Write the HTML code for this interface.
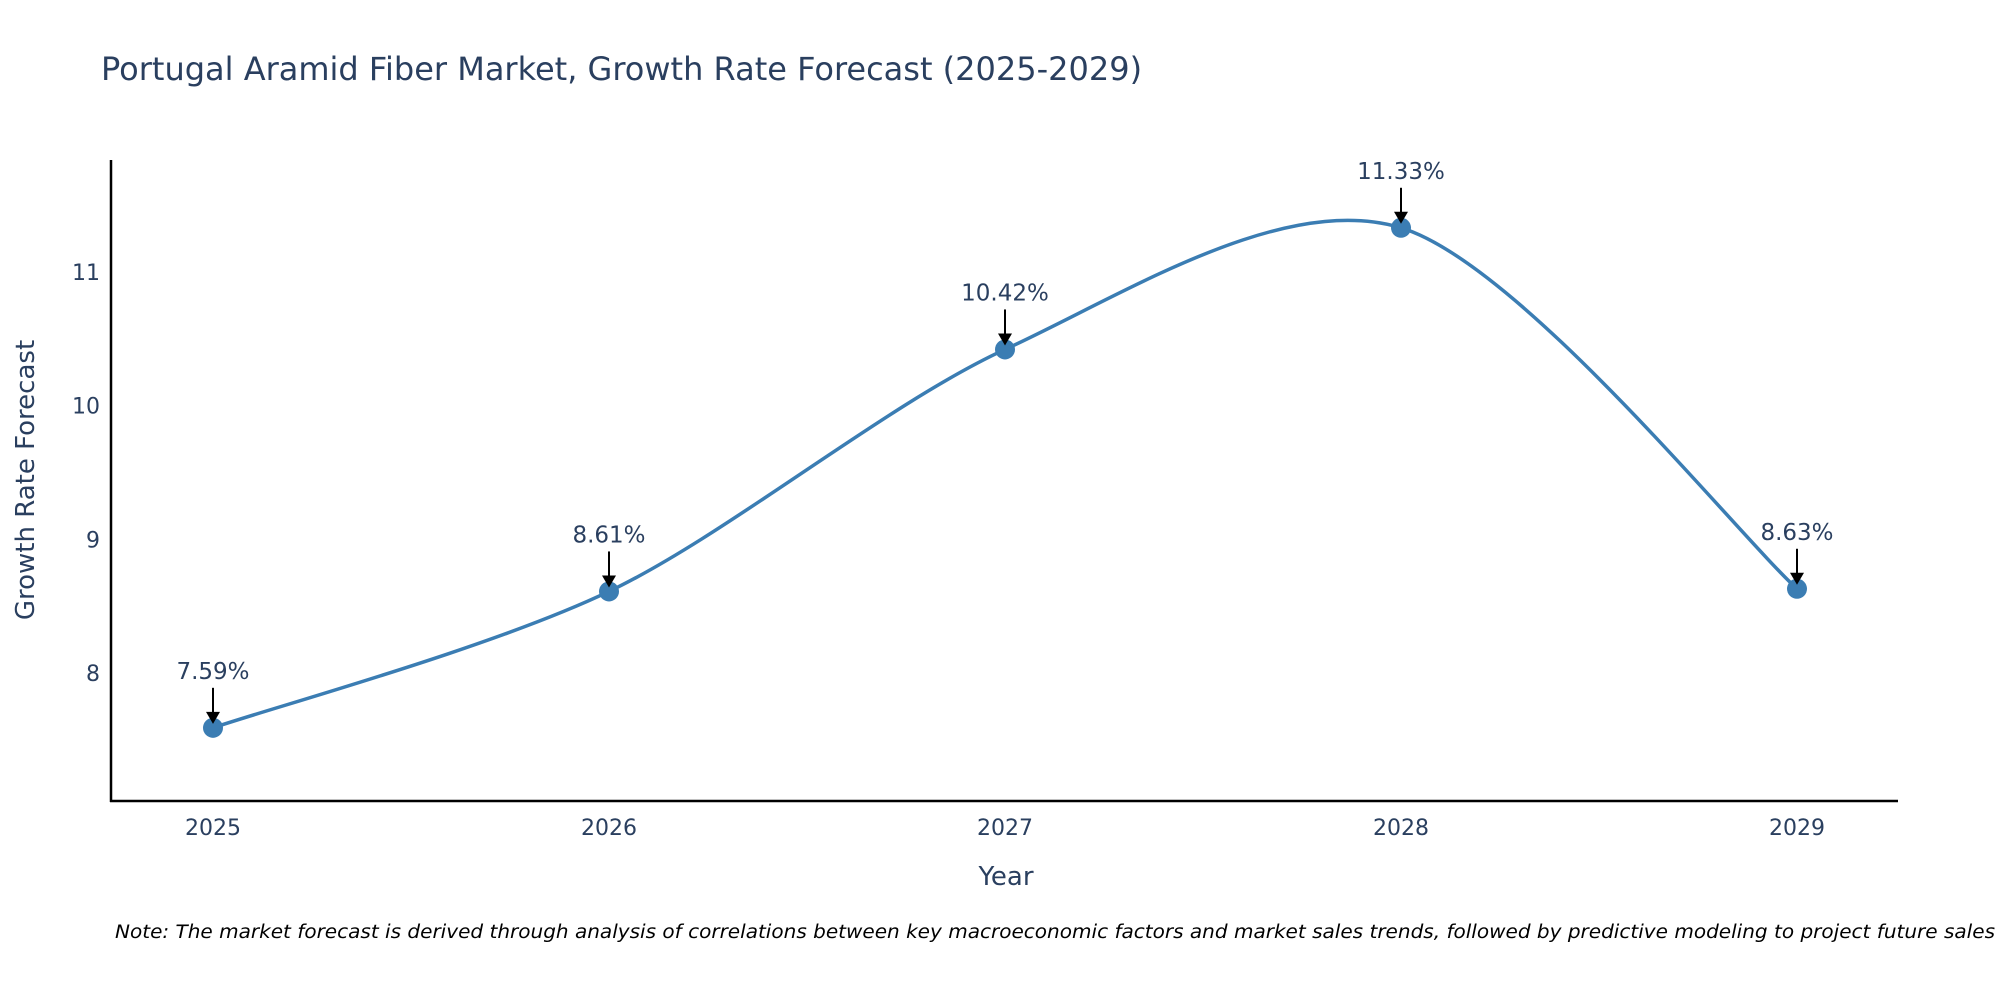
<!DOCTYPE html>
<html><head><meta charset="utf-8"><style>
body{margin:0;background:#fff}
svg{display:block;font-family:"DejaVu Sans","Liberation Sans",sans-serif}
</style></head><body>
<svg id="chart" width="2000" height="1000">
<text x="101" y="80" font-size="32" fill="#2a3f5f">Portugal Aramid Fiber Market, Growth Rate Forecast (2025-2029)</text>
<g id="yticks"></g><g id="xticks"></g>
<path id="curve" fill="none" stroke="#3b7db3" stroke-width="3.5"/>
<g id="marks"></g>
<line x1="111" y1="160" x2="111" y2="802" stroke="#000" stroke-width="2.5"/>
<line x1="110" y1="801" x2="1898" y2="801" stroke="#000" stroke-width="2.5"/>
<text transform="translate(34,480) rotate(-90)" text-anchor="middle" font-size="26" fill="#2a3f5f">Growth Rate Forecast</text>
<text x="1006" y="885" text-anchor="middle" font-size="26" fill="#2a3f5f">Year</text>
<text x="115" y="938" font-size="18.5" font-style="italic" fill="#000" textLength="1880" lengthAdjust="spacingAndGlyphs">Note: The market forecast is derived through analysis of correlations between key macroeconomic factors and market sales trends, followed by predictive modeling to project future sales</text>
</svg>
<script>
const years=[2025,2026,2027,2028,2029];
const values=[7.59,8.61,10.42,11.33,8.63];
const labels=["7.59%","8.61%","10.42%","11.33%","8.63%"];
const yTicks=[8,9,10,11];
const NS="http://www.w3.org/2000/svg";
const X=v=>213+(v-2025)*396;
const Y=v=>673-(v-8)*133.7;
const svg=document.getElementById('chart');
function mk(t,a,p){const e=document.createElementNS(NS,t);for(const k in a)e.setAttribute(k,a[k]);p.appendChild(e);return e;}
const yt=document.getElementById('yticks');
yTicks.forEach(v=>{const e=mk('text',{x:100,y:Y(v)+8,'text-anchor':'end','font-size':22,fill:'#2a3f5f'},yt);e.textContent=v;

});
const xt=document.getElementById('xticks');
years.forEach(v=>{const e=mk('text',{x:X(v),y:835,'text-anchor':'middle','font-size':22,fill:'#2a3f5f'},xt);e.textContent=v;

});
const pts=years.map((y,i)=>[X(y),Y(values[i])]);
let d=`M${pts[0][0]},${pts[0][1]}`;const s=0.45;
for(let i=0;i<pts.length-1;i++){const p0=pts[Math.max(i-1,0)],p1=pts[i],p2=pts[i+1],p3=pts[Math.min(i+2,pts.length-1)];
const c1=[p1[0]+(p2[0]-p0[0])*s/3,p1[1]+(p2[1]-p0[1])*s/3],c2=[p2[0]-(p3[0]-p1[0])*s/3,p2[1]-(p3[1]-p1[1])*s/3];
d+=` C${c1[0]},${c1[1]} ${c2[0]},${c2[1]} ${p2[0]},${p2[1]}`;}
document.getElementById('curve').setAttribute('d',d);
const mg=document.getElementById('marks');
pts.forEach((p,i)=>{
const c=mk('circle',{cx:p[0],cy:p[1],r:10,fill:'#3b7db3'},mg);


const l=mk('line',{x1:p[0],y1:p[1]-40,x2:p[0],y2:p[1]-14,stroke:'#000','stroke-width':2},mg);


const h=mk('polygon',{points:`${p[0]-7},${p[1]-16} ${p[0]+7},${p[1]-16} ${p[0]},${p[1]-4}`,fill:'#000'},mg);


const t=mk('text',{x:p[0],y:p[1]-49,'text-anchor':'middle','font-size':23,fill:'#2a3f5f'},mg);t.textContent=labels[i];


});
</script>
</body></html>
